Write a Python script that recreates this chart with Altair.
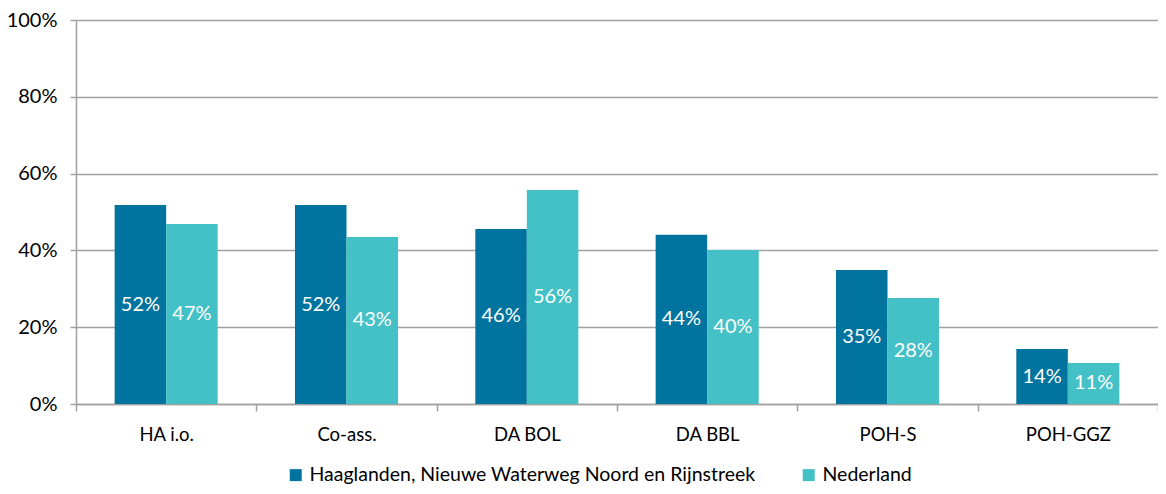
import altair as alt
import pandas as pd

categories = ["HA i.o.", "Co-ass.", "DA BOL", "DA BBL", "POH-S", "POH-GGZ"]
series = ["Haaglanden, Nieuwe Waterweg Noord en Rijnstreek", "Nederland"]
region_values = [0.52, 0.52, 0.46, 0.44, 0.35, 0.14]
region_heights = [0.518, 0.518, 0.456, 0.441, 0.349, 0.143]
nl_values = [0.47, 0.43, 0.56, 0.40, 0.28, 0.11]
nl_heights = [0.469, 0.435, 0.557, 0.401, 0.276, 0.107]
colors = ["#00749E", "#44C1C6"]

rows = []
for i, c in enumerate(categories):
    rows.append({"cat": c, "series": series[0], "h": region_heights[i], "v": region_values[i]})
    rows.append({"cat": c, "series": series[1], "h": nl_heights[i], "v": nl_values[i]})
df = pd.DataFrame(rows)
df["mid"] = df["h"] / 2

FONT = "Lato"

base = alt.Chart(df).encode(
    x=alt.X("cat:N", sort=categories, title=None,
            scale=alt.Scale(paddingInner=0, paddingOuter=0),
            axis=alt.Axis(tickBand="extent", labelAngle=0, labelFontSize=18.5, labelColor="#000000",
                          labelFont=FONT, labelPadding=14, domainColor="#A0A0A0", domainWidth=1.5,
                          tickColor="#A0A0A0", tickWidth=1.5, tickSize=7, grid=False)),
    xOffset=alt.XOffset("series:N", sort=series,
                        scale=alt.Scale(paddingOuter=0.75, paddingInner=0)),
)

bars = base.mark_bar().encode(
    y=alt.Y("h:Q", title=None,
            scale=alt.Scale(domain=[0, 1]),
            axis=alt.Axis(values=[0, 0.2, 0.4, 0.6, 0.8, 1.0], format=".0%", labelFontSize=20,
                          labelColor="#000000", labelFont=FONT, labelPadding=13,
                          domainColor="#A0A0A0", domainWidth=1.5,
                          tickColor="#A0A0A0", tickWidth=1.5, tickSize=6,
                          gridColor="#A0A0A0", gridWidth=1.5)),
    color=alt.Color("series:N", sort=series, scale=alt.Scale(domain=series, range=colors),
                    legend=alt.Legend(title=None, orient="none", legendX=210, legendY=445,
                                      direction="horizontal", symbolType="square", symbolSize=144,
                                      symbolStrokeWidth=0, labelFontSize=19.5, labelFont=FONT,
                                      labelColor="#000000", columnPadding=43, labelOffset=4,
                                      labelLimit=800, padding=0)),
)

labels = base.mark_text(color="white", fontSize=20, font=FONT, baseline="middle").encode(
    y=alt.Y("mid:Q"),
    text=alt.Text("v:Q", format=".0%"),
)

chart = alt.layer(bars, labels).properties(
    width=1082, height=384,
    autosize=alt.AutoSizeParams(type="none"),
    padding={"left": 68, "top": 12, "right": 0, "bottom": 82},
).configure_view(stroke=None).configure(background="white")

chart.save("out.html", embed_options={"renderer": "svg", "actions": False})
